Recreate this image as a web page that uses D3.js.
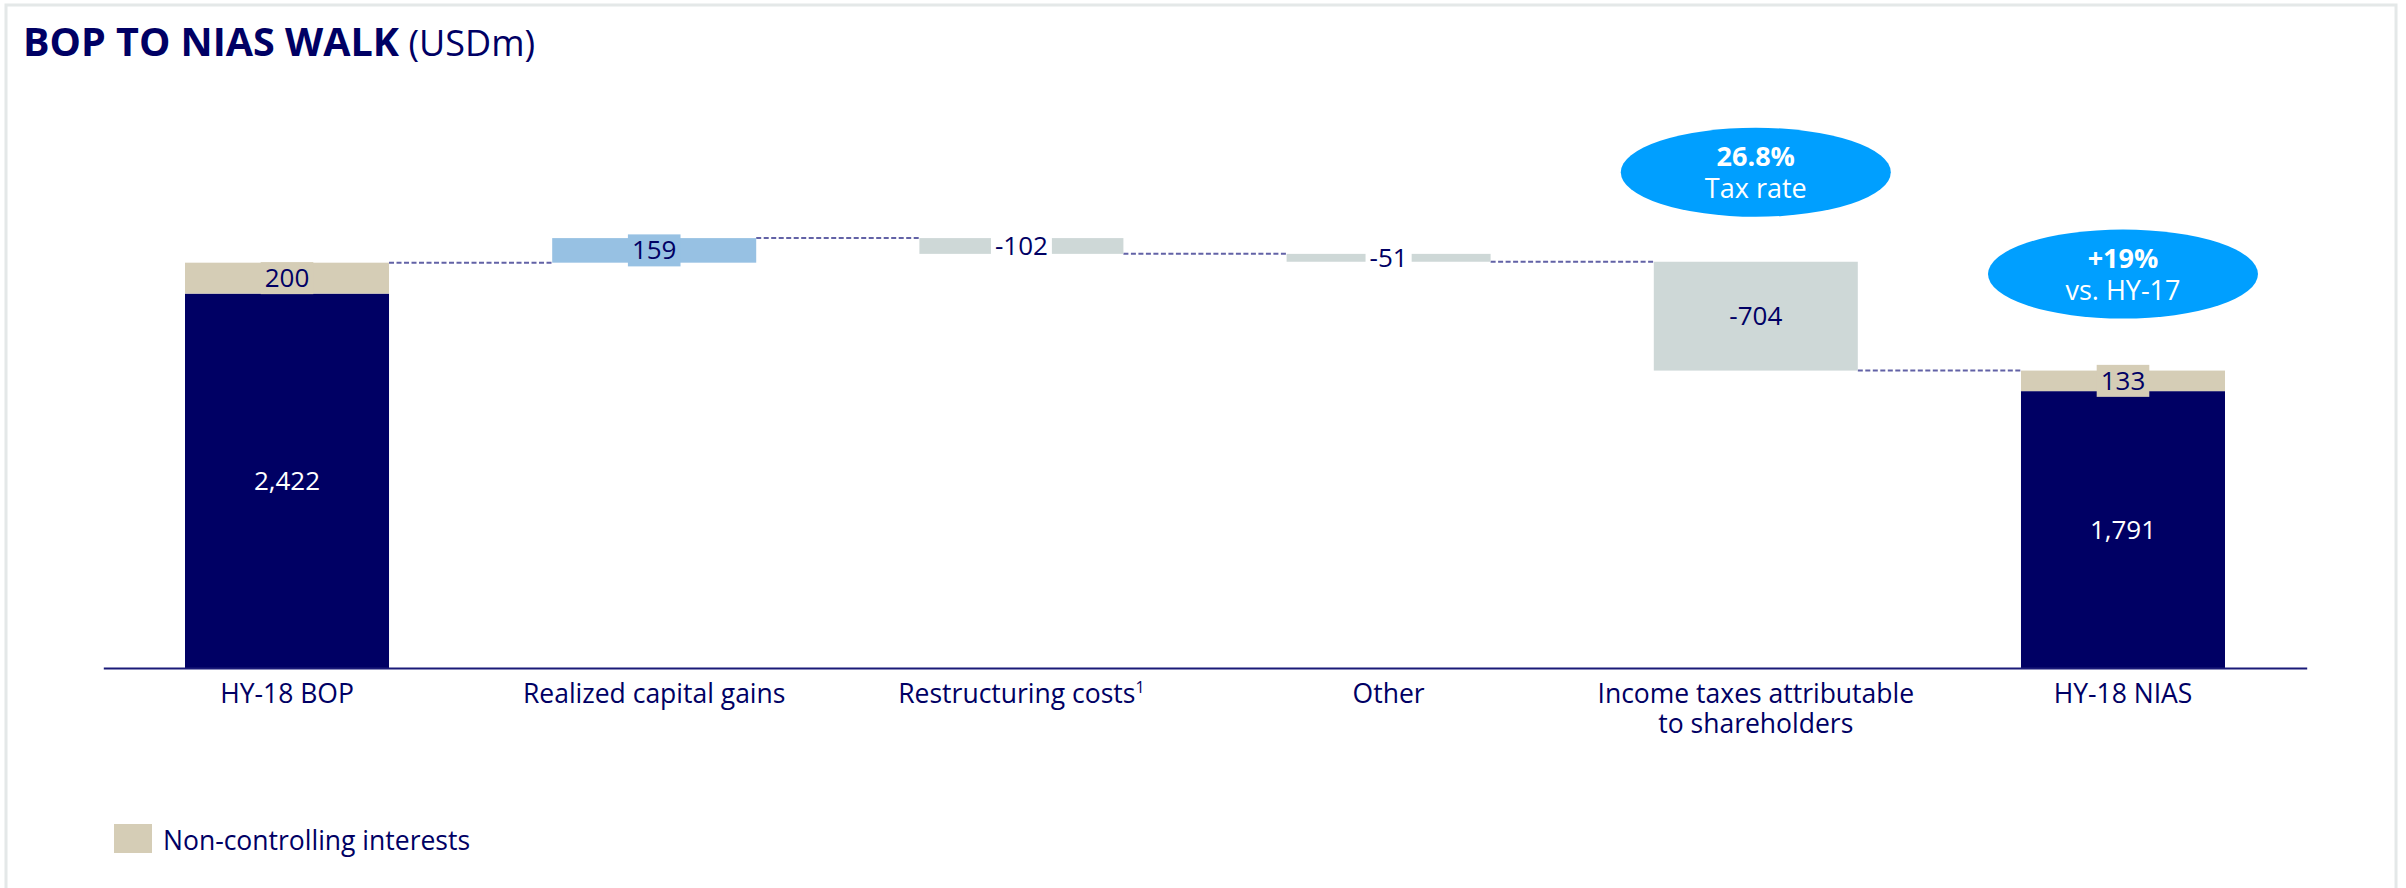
<!DOCTYPE html>
<html>
<head>
<meta charset="utf-8">
<script src="https://cdn.jsdelivr.net/npm/d3@7"></script>
<style>
  html, body { margin: 0; padding: 0; background: #ffffff; }
  svg { display: block; }
  text { font-family: "Open Sans", "Noto Sans", sans-serif; }
</style>
</head>
<body>
<svg id="chart" width="2406" height="888"></svg>
<script>
// ---- data ----
const categories = ["HY-18 BOP", "Realized capital gains", "Restructuring costs", "Other", "Income taxes attributable to shareholders", "HY-18 NIAS"];
const categoryLines = [["HY-18 BOP"], ["Realized capital gains"], ["Restructuring costs"], ["Other"], ["Income taxes attributable", "to shareholders"], ["HY-18 NIAS"]];
const categoryFootnotes = ["", "", "1", "", "", ""];
const totalsShareholders = [2422, null, null, null, null, 1791];
const totalsNonControlling = [200, null, null, null, null, 133];
const deltas = [null, 159, -102, -51, -704, null];
const bubbles = [
  { category: "Income taxes attributable to shareholders", big: "26.8%", small: "Tax rate" },
  { category: "HY-18 NIAS", big: "+19%", small: "vs. HY-17" }
];
const legendLabels = ["Non-controlling interests"];

// ---- styles ----
const NAVY = "#000064";
const TAN = "#D5CDB6";
const LBLUE = "#97C1E3";
const GREY = "#CED8D7";
const BUBBLE = "#009FFF";
const fmt = d3.format(",");

const svg = d3.select("#chart");

// frame
svg.append("rect").attr("x", 6).attr("y", 5).attr("width", 2390).attr("height", 900)
  .attr("fill", "none").attr("stroke", "#E4E8E8").attr("stroke-width", 3);

// title
const title = svg.append("text").attr("x", 23).attr("y", 56).attr("fill", NAVY);
title.append("tspan").attr("font-weight", 700).attr("font-size", 39.5).text("BOP TO NIAS WALK");
title.append("tspan").attr("font-weight", 400).attr("font-size", 36).text(" (USDm)");

// ---- build waterfall steps ----
let running = 0;
const steps = categories.map((c, i) => {
  if (deltas[i] === null) {
    const total = totalsShareholders[i] + totalsNonControlling[i];
    running = total;
    return { cat: c, type: "total", main: totalsShareholders[i], nci: totalsNonControlling[i], start: 0, end: total };
  } else {
    const start = running;
    running = running + deltas[i];
    return { cat: c, type: "delta", value: deltas[i], start: start, end: running };
  }
});

const maxVal = d3.max(steps, d => Math.max(d.start, d.end));

const x = d3.scaleBand().domain(categories).range([103.3, 2306.7]).paddingInner(0.4444).paddingOuter(0.2225);
const y = d3.scaleLinear().domain([0, maxVal]).range([668, 238.1]);

// connectors
const conn = svg.append("g");
steps.forEach((d, i) => {
  if (i === steps.length - 1) return;
  const lvl = d.end;
  conn.append("line")
    .attr("x1", x(d.cat) + x.bandwidth()).attr("x2", x(steps[i + 1].cat))
    .attr("y1", y(lvl)).attr("y2", y(lvl))
    .attr("stroke", "#6262A6").attr("stroke-width", 2).attr("stroke-dasharray", "5,2.5");
});

// bars
const bars = svg.append("g");
const labels = svg.append("g");
function boxLabel(cx, cy, txt, bg, color) {
  const g = labels.append("g");
  const t = g.append("text").attr("x", cx).attr("y", cy).attr("dy", "0.35em")
    .attr("text-anchor", "middle").attr("font-size", 26).attr("fill", color).text(txt);
  const bb = t.node().getBBox();
  if (bg) {
    g.insert("rect", "text").attr("x", bb.x - 4).attr("y", cy - 16).attr("width", bb.width + 8).attr("height", 32).attr("fill", bg);
  }
}

steps.forEach((d, i) => {
  const bx = x(d.cat), bw = x.bandwidth(), cx = bx + bw / 2;
  if (d.type === "total") {
    bars.append("rect").attr("x", bx).attr("width", bw)
      .attr("y", y(d.main)).attr("height", y(0) - y(d.main)).attr("fill", NAVY);
    bars.append("rect").attr("x", bx).attr("width", bw)
      .attr("y", y(d.end)).attr("height", y(d.main) - y(d.end)).attr("fill", TAN);
    boxLabel(cx, (y(0) + y(d.main)) / 2, fmt(d.main), null, "#ffffff");
    boxLabel(cx, (y(d.main) + y(d.end)) / 2, fmt(d.nci), TAN, NAVY);
  } else {
    const top = y(Math.max(d.start, d.end)), bot = y(Math.min(d.start, d.end));
    const col = d.value > 0 ? LBLUE : GREY;
    bars.append("rect").attr("x", bx).attr("width", bw)
      .attr("y", top).attr("height", bot - top).attr("fill", col);
    const small = (bot - top) < 20 && d.value < 0;
    boxLabel(cx, (top + bot) / 2, String(d.value), small ? "#ffffff" : col, NAVY);
  }
});

// axis
const axis = d3.axisBottom(x).tickSize(0).tickFormat("");
const ax = svg.append("g").attr("transform", "translate(0,668)").call(axis);
ax.select(".domain").attr("stroke", "#1A1A78").attr("stroke-width", 2.2);

// category labels
const cl = svg.append("g");
categories.forEach((c, i) => {
  const t = cl.append("text").attr("x", x(c) + x.bandwidth() / 2).attr("y", 703)
    .attr("text-anchor", "middle").attr("font-size", 26.5).attr("fill", NAVY);
  categoryLines[i].forEach((ln, j) => {
    t.append("tspan").attr("x", x(c) + x.bandwidth() / 2).attr("dy", j === 0 ? 0 : 30).text(ln);
  });
  if (categoryFootnotes[i]) {
    t.append("tspan").attr("font-size", 16).attr("dy", -10).text(categoryFootnotes[i]);
  }
});

// bubbles
bubbles.forEach(b => {
  const s = steps.find(d => d.cat === b.category);
  const cx = x(b.category) + x.bandwidth() / 2;
  const topY = y(Math.max(s.start, s.end));
  const cy = s.type === "total" ? topY - 96.5 : topY - 89.5;
  svg.append("ellipse").attr("cx", cx).attr("cy", cy).attr("rx", 135).attr("ry", 44.5).attr("fill", BUBBLE);
  const t = svg.append("text").attr("x", cx).attr("y", cy - 6).attr("text-anchor", "middle")
    .attr("font-size", 27).attr("fill", "#ffffff");
  t.append("tspan").attr("x", cx).attr("font-weight", 700).text(b.big);
  t.append("tspan").attr("x", cx).attr("dy", 31.5).attr("font-weight", 400).text(b.small);
});

// legend
const lg = svg.append("g");
lg.append("rect").attr("x", 114).attr("y", 824).attr("width", 38).attr("height", 29).attr("fill", TAN);
lg.append("text").attr("x", 163).attr("y", 850).attr("font-size", 26.5).attr("fill", NAVY).text(legendLabels[0]);
</script>
</body>
</html>
